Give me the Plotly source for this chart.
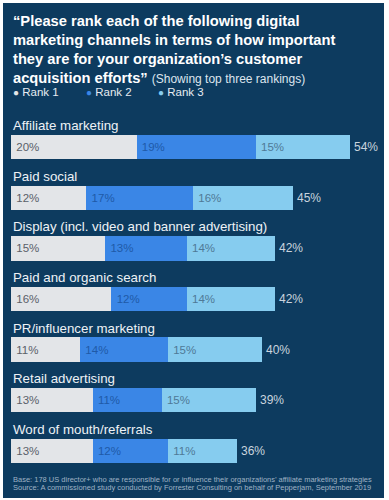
import plotly.graph_objects as go

categories = [
    "Affiliate marketing",
    "Paid social",
    "Display (incl. video and banner advertising)",
    "Paid and organic search",
    "PR/influencer marketing",
    "Retail advertising",
    "Word of mouth/referrals",
]
rank1 = [20, 12, 15, 16, 11, 13, 13]
rank2 = [19, 17, 13, 12, 14, 11, 12]
rank3 = [15, 16, 14, 14, 15, 15, 11]
totals = [54, 45, 42, 42, 40, 39, 36]
series_names = ["Rank 1", "Rank 2", "Rank 3"]

title_lines = [
    "\u201cPlease rank each of the following digital",
    "marketing channels in terms of how important",
    "they are for your organization\u2019s customer",
]
title_last_bold = "acquisition efforts\u201d"
title_last_note = "(Showing top three rankings)"
footnotes = [
    "Base: 178 US director+ who are responsible for or influence their organizations\u2019 affiliate marketing strategies",
    "Source: A commissioned study conducted by Forrester Consulting on behalf of Pepperjam, September 2019",
]

NAVY = "#0d3b5f"
FONT = "Liberation Sans, Arial, Helvetica, sans-serif"
bar_colors = ["#e3e5e8", "#3a86e6", "#86ccef"]
text_colors = ["#5a6068", "#1f5aa8", "#4f7996"]

# layout geometry (pixels)
W, H = 389, 500
ML, MR, MT, MB = 11, 14, 122, 24
PW = W - ML - MR
PH = H - MT - MB


def px(x):
    return (x - ML) / PW


def py(y):
    return (H - MB - y) / PH


fig = go.Figure()
for name, vals, col, tcol in zip(series_names, [rank1, rank2, rank3], bar_colors, text_colors):
    fig.add_trace(go.Bar(
        y=categories, x=vals, orientation="h", name=name,
        marker=dict(color=col, line=dict(width=0)),
        text=vals, texttemplate="\u2009%{x}%", textposition="inside",
        insidetextanchor="start",
        textfont=dict(family=FONT, size=11.5, color=tcol),
        hoverinfo="skip", showlegend=False,
    ))

annotations = []
# category labels above bars
for c in categories:
    annotations.append(dict(
        x=0, y=c, xref="x", yref="y", text=c, showarrow=False,
        xanchor="left", yanchor="bottom", yshift=12,
        font=dict(family=FONT, size=13.3, color="#eef2f6"),
    ))
# totals
for c, t in zip(categories, totals):
    annotations.append(dict(
        x=t, y=c, xref="x", yref="y", text=f"{t}%", showarrow=False,
        xanchor="left", yanchor="middle", xshift=2,
        font=dict(family=FONT, size=12, color="#c9d4de"),
    ))
# title
title_y = [21, 40, 59]
for line, yy in zip(title_lines, title_y):
    annotations.append(dict(
        x=px(11), y=py(yy), xref="paper", yref="paper", text=f"<b>{line}</b>",
        showarrow=False, xanchor="left", yanchor="middle",
        font=dict(family=FONT, size=14.7, color="#ffffff"),
    ))
annotations.append(dict(
    x=px(11), y=py(78), xref="paper", yref="paper",
    text=f"<b>{title_last_bold}</b> <span style='font-size:12px;color:#dde5ee'>{title_last_note}</span>",
    showarrow=False, xanchor="left", yanchor="middle",
    font=dict(family=FONT, size=14.7, color="#ffffff"),
))
# legend
legend_x = [11, 84, 156]
for name, col, lx in zip(series_names, bar_colors, legend_x):
    annotations.append(dict(
        x=px(lx), y=py(92), xref="paper", yref="paper",
        text=f"<span style='color:{col};font-size:10px'>\u25cf</span> {name}",
        showarrow=False, xanchor="left", yanchor="middle",
        font=dict(family=FONT, size=11.5, color="#e6ecf2"),
    ))
# footnotes
for line, yy in zip(footnotes, [479, 487]):
    annotations.append(dict(
        x=px(11), y=py(yy), xref="paper", yref="paper", text=line,
        showarrow=False, xanchor="left", yanchor="middle",
        font=dict(family=FONT, size=7.5, color="#9fb2c4"),
    ))

fig.update_layout(
    width=W, height=H,
    margin=dict(l=ML, r=MR, t=MT, b=MB, pad=0),
    barmode="stack", bargap=0.52,
    paper_bgcolor="#ffffff", plot_bgcolor="rgba(0,0,0,0)",
    xaxis=dict(range=[0, 58], visible=False, fixedrange=True),
    yaxis=dict(categoryorder="array", categoryarray=categories,
               range=[6.5, -0.5], visible=False, fixedrange=True),
    annotations=annotations,
    shapes=[dict(type="rect", xref="paper", yref="paper",
                 x0=px(3), x1=px(384), y0=py(498), y1=py(3),
                 fillcolor=NAVY, line=dict(width=0), layer="below")],
    showlegend=False,
)

fig.write_html(
    "out.html",
    config={"displayModeBar": False},
    post_script="document.body.style.margin='0';document.body.style.overflow='hidden';",
)
